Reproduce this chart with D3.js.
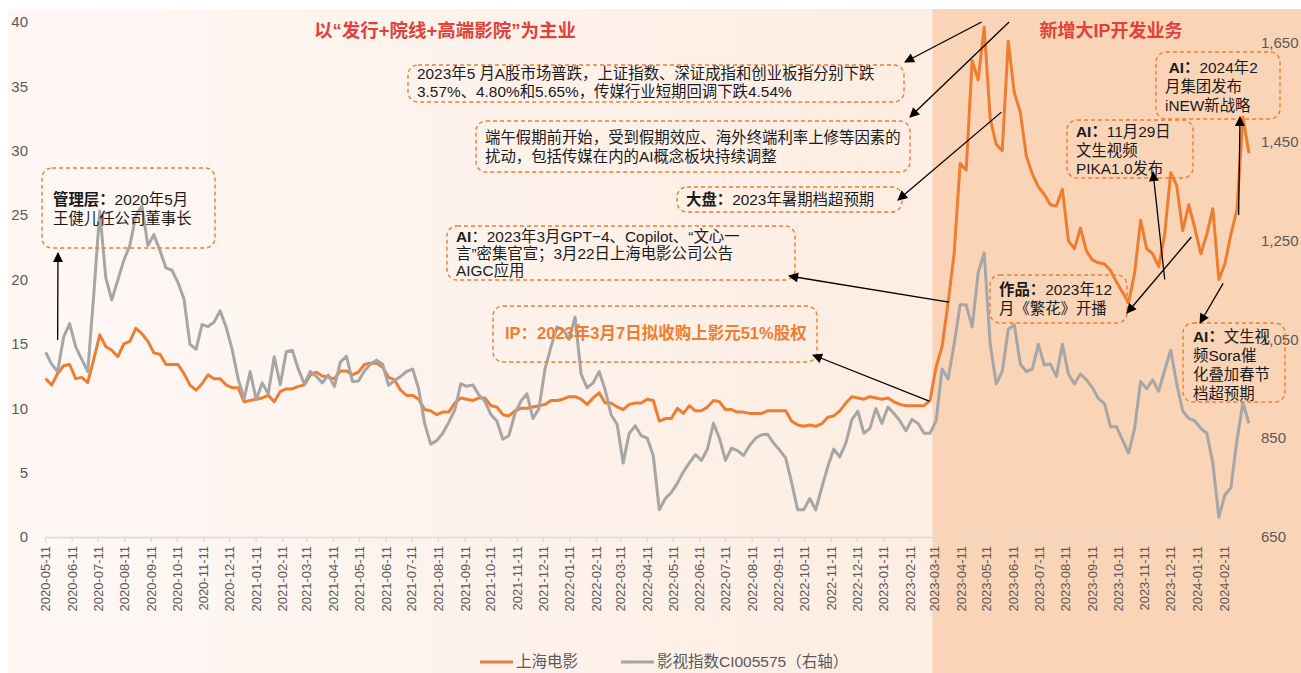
<!DOCTYPE html>
<html>
<head>
<meta charset="utf-8">
<script src="https://cdn.jsdelivr.net/npm/d3@7"></script>
<style>
  body { margin: 0; background: #fff; }
  text { font-family: "Liberation Sans", "Noto Sans CJK SC", sans-serif; }
</style>
</head>
<body>
<svg id="chart" width="1301" height="673"></svg>
<script>
// weekly closes (Mondays from 2020-05-11)
var weeks = d3.timeMonday.range(new Date(2020, 4, 11), new Date(2024, 2, 12));

// 上海电影 (left axis)
var shanghaiFilm = [
  12.3, 11.8, 12.7, 13.3, 13.4, 12.3, 12.4, 12.0, 13.8, 15.7,
  14.8, 14.5, 14.0, 15.0, 15.2, 16.2, 15.8, 15.2, 14.3, 14.2,
  13.4, 13.4, 13.4, 12.7, 11.8, 11.4, 11.9, 12.6, 12.3, 12.3,
  11.8, 11.6, 11.6, 10.5, 10.6, 10.7, 10.8, 11.0, 10.5, 11.3,
  11.5, 11.5, 11.7, 11.8, 12.6, 12.8, 12.5, 12.4, 12.3, 12.9,
  12.9, 12.6, 12.8, 13.4, 13.5, 13.5, 13.2, 12.4, 12.2, 11.4,
  11.0, 11.0, 10.7, 9.9, 9.8, 9.5, 9.7, 9.7, 10.4, 10.8,
  10.7, 10.6, 10.8, 10.8, 10.2, 10.1, 9.5, 9.4, 9.8, 10.0,
  10.0, 10.1, 10.2, 10.3, 10.6, 10.6, 10.7, 10.9, 10.9, 10.7,
  10.3, 10.8, 11.2, 10.4, 10.4, 10.1, 9.9, 10.3, 10.4, 10.4,
  10.7, 10.6, 9.0, 9.2, 9.2, 10.0, 9.6, 10.2, 9.8, 9.8,
  10.1, 10.6, 10.5, 9.9, 9.9, 9.7, 9.7, 9.6, 9.6, 9.6,
  9.8, 9.8, 9.8, 9.8, 9.0, 8.7, 8.6, 8.7, 8.6, 8.8,
  9.3, 9.4, 9.8, 10.4, 10.9, 10.8, 10.7, 10.9, 10.8, 10.7,
  10.8, 10.5, 10.3, 10.2, 10.2, 10.2, 10.2, 10.6, 13.2, 14.8,
  18.2, 22.0, 29.0, 28.5, 37.0, 35.5, 39.6, 32.5, 30.5, 30.0,
  38.5, 34.5, 33.0, 29.6, 28.2, 27.2, 26.6, 25.8, 25.7, 27.0,
  23.0, 22.4, 24.0, 22.2, 21.5, 21.3, 21.2, 20.7, 19.8, 19.0,
  18.2, 20.5, 24.6, 22.4, 22.0, 21.0, 23.5, 28.3, 27.3, 23.8,
  25.8, 24.0, 22.0, 23.5, 25.5, 20.0, 21.2, 23.5, 25.4, 32.6,
  29.8
];

// 影视指数CI005575 (right axis)
var filmIndex = [
  1024, 1000, 985, 1055, 1082, 1035, 1010, 985, 1140, 1310,
  1175, 1130, 1170, 1210, 1240, 1300, 1320, 1240, 1262, 1230,
  1195, 1190, 1165, 1132, 1040, 1030, 1080, 1076, 1085, 1108,
  1075, 1030, 970, 930, 985, 928, 962, 940, 1015, 958,
  1025, 1028, 990, 960, 985, 975, 962, 978, 955, 1004,
  1016, 965, 966, 986, 1000, 1008, 1000, 957, 967, 975,
  985, 990, 950, 880, 838, 845, 860, 882, 907, 960,
  955, 958, 938, 925, 898, 885, 848, 855, 900, 925,
  940, 890, 910, 990, 1035, 1075, 1070, 1050, 1095, 980,
  952, 962, 985, 948, 897, 878, 800, 860, 875, 855,
  850, 815, 705, 728, 740, 759, 782, 800, 817, 805,
  828, 880, 850, 805, 830, 825, 815, 835, 850, 857,
  858, 840, 826, 810, 760, 705, 705, 728, 705, 750,
  792, 828, 812, 840, 887, 905, 860, 870, 910, 880,
  913, 900, 885, 865, 888, 880, 860, 860, 885, 990,
  970, 1040, 1120, 1120, 1075, 1185, 1225, 1040, 960, 985,
  1070, 1080, 1000, 985, 990, 1040, 998, 1000, 975, 1040,
  980, 960, 980, 968, 952, 930, 920, 873, 873, 846,
  820, 870, 965, 950, 968, 945, 988, 1028, 960, 905,
  890, 885, 870, 860, 800, 690, 735, 750, 845, 922,
  880
];

var tickDates = d3.timeMonth.range(new Date(2020, 4, 1), new Date(2024, 2, 1))
  .map(function (d) { return new Date(d.getFullYear(), d.getMonth(), 11); });
var leftTicks = [0, 5, 10, 15, 20, 25, 30, 35, 40];
var rightTicks = [650, 850, 1050, 1250, 1450, 1650];
var phaseStart = new Date(2023, 2, 11);
var seriesNames = ['上海电影', '影视指数CI005575（右轴）'];

var parse = d3.timeParse('%Y-%m-%d');

var svg = d3.select('#chart');
var W = 1301, H = 673;

var x = d3.scaleTime()
  .domain([new Date(2020, 4, 11), new Date(2024, 1, 11)])
  .range([45.6, 1224]);
var yL = d3.scaleLinear().domain([0, 40]).range([537, 22]);
var yR = d3.scaleLinear().domain([650, 1650]).range([537, 43]);

// background
var defs = svg.append('defs');
var grad = defs.append('linearGradient').attr('id', 'bg').attr('x1', 0).attr('x2', 1).attr('y1', 0).attr('y2', 0);
grad.append('stop').attr('offset', 0).attr('stop-color', '#fef8f5');
grad.append('stop').attr('offset', 1).attr('stop-color', '#fdede2');

defs.append('marker').attr('id', 'arrow')
  .attr('viewBox', '0 0 10 10').attr('refX', 9).attr('refY', 5)
  .attr('markerUnits', 'userSpaceOnUse')
  .attr('markerWidth', 11).attr('markerHeight', 10).attr('orient', 'auto')
  .append('path').attr('d', 'M0,0L10,5L0,10z').attr('fill', '#000');

var px = x(phaseStart) - 2;
svg.append('rect').attr('x', 8).attr('y', 9).attr('width', px - 8).attr('height', H - 9).attr('fill', 'url(#bg)');
svg.append('rect').attr('x', px).attr('y', 9).attr('width', W - px).attr('height', H - 9).attr('fill', '#fad4b7');

// left axis labels
svg.append('g').selectAll('text').data(leftTicks).enter().append('text')
  .attr('x', 28).attr('y', function (d) { return yL(d); }).attr('dy', '0.35em')
  .attr('text-anchor', 'end').attr('font-size', 15).attr('fill', '#595959')
  .text(function (d) { return d; });

// right axis labels
svg.append('g').selectAll('text').data(rightTicks).enter().append('text')
  .attr('x', 1261).attr('y', function (d) { return yR(d); }).attr('dy', '0.35em')
  .attr('font-size', 15).attr('fill', '#595959')
  .text(function (d) { return d3.format(',')(d); });

// x axis
svg.append('line').attr('x1', 45).attr('x2', 1248).attr('y1', 537.5).attr('y2', 537.5)
  .attr('stroke', '#d9d9d9').attr('stroke-width', 1.5);
var xt = svg.append('g').selectAll('g').data(tickDates).enter().append('g')
  .attr('transform', function (d) { return 'translate(' + x(d) + ',0)'; });
xt.append('line').attr('y1', 537).attr('y2', 542).attr('stroke', '#d9d9d9').attr('stroke-width', 1.2);
xt.append('text')
  .attr('transform', 'translate(0,546) rotate(-90)')
  .attr('dy', '0.35em').attr('text-anchor', 'end')
  .attr('font-size', 13).attr('fill', '#595959')
  .text(function (d) { return d3.timeFormat('%Y-%m-%d')(d); });

// series
var lineL = d3.line().x(function (d, i) { return x(weeks[i]); }).y(function (d) { return yL(d); });
var lineR = d3.line().x(function (d, i) { return x(weeks[i]); }).y(function (d) { return yR(d); });

svg.append('path').datum(shanghaiFilm).attr('d', lineL)
  .attr('fill', 'none').attr('stroke', '#ed7d31').attr('stroke-width', 3).attr('stroke-linejoin', 'round');
svg.append('path').datum(filmIndex).attr('d', lineR)
  .attr('fill', 'none').attr('stroke', '#a6a6a6').attr('stroke-width', 3).attr('stroke-linejoin', 'round');

// headlines
svg.append('text').attr('x', 445).attr('y', 37).attr('text-anchor', 'middle')
  .attr('font-size', 18.5).attr('font-weight', 'bold').attr('fill', '#e2413a')
  .text('以“发行+院线+高端影院”为主业');
svg.append('text').attr('x', 1111).attr('y', 37).attr('text-anchor', 'middle')
  .attr('font-size', 18).attr('font-weight', 'bold').attr('fill', '#e2413a')
  .text('新增大IP开发业务');

// annotations
var notes = [
  { lines: [[['管理层：', 1], ['2020年5月']], [['王健儿任公司董事长']]],
    box: [42, 168, 173, 80], tx: 53, ty: 205, lh: 19, from: ['2020-05-25', 15.3], to: [58, 253] },
  { lines: [[['2023年5 月A股市场普跌，上证指数、深证成指和创业板指分别下跌']], [['3.57%、4.80%和5.65%，传媒行业短期回调下跌4.54%']]],
    box: [408, 65, 496, 37], tx: 417, ty: 79, lh: 18, from: ['2023-05-05', 40], to: [905, 62] },
  { lines: [[['端午假期前开始，受到假期效应、海外终端利率上修等因素的']], [['扰动，包括传媒在内的AI概念板块持续调整']]],
    box: [476, 121, 434, 51], tx: 485, ty: 143, lh: 19, from: ['2023-06-06', 40], to: [910, 117] },
  { lines: [[['大盘：', 1], ['2023年暑期档超预期']]],
    box: [677, 187, 225, 25], tx: 686, ty: 205, lh: 19, from: ['2023-05-28', 33], to: [898, 200] },
  { lines: [[['AI', 1], ['：2023年3月GPT−4、Copilot、“文心一']], [['言”密集官宣；3月22日上海电影公司公告']], [['AIGC应用']]],
    box: [447, 226, 348, 54], tx: 456, ty: 242, lh: 17, from: ['2023-03-28', 18.25], to: [789, 276] },
  { lines: [[['IP：2023年3月7日拟收购上影元51%股权']]], color: '#ed7d31', bold: 1, size: 16.5,
    box: [493, 306, 324, 56], tx: 505, ty: 339, lh: 19, from: ['2023-03-05', 10.55], to: [813, 355] },
  { lines: [[['作品：', 1], ['2023年12']], [['月《繁花》开播']]],
    box: [990, 275, 137, 48], tx: 999, ty: 295, lh: 19, from: ['2024-01-04', 23.3], to: [1127, 313] },
  { lines: [[['AI：', 1], ['11月29日']], [['文生视频']], [['PIKA1.0发布']]],
    box: [1067, 120, 126, 58], tx: 1076, ty: 137, lh: 18.5, from: ['2023-12-04', 20], to: [1153, 172] },
  { lines: [[[' AI：', 1], ['2024年2']], [['月集团发布']], [['iNEW新战略']]],
    box: [1156, 52, 124, 67], tx: 1165, ty: 73, lh: 19, from: ['2024-02-28', 25], to: [1240, 117] },
  { lines: [[['AI：', 1], ['文生视']], [['频Sora催']], [['化叠加春节']], [['档超预期']]],
    box: [1183, 323, 102, 79], tx: 1193, ty: 342, lh: 19, from: ['2024-02-10', 19.7], to: [1200, 323] }
];

var ann = svg.append('g');
notes.forEach(function (n) {
  ann.append('rect')
    .attr('x', n.box[0]).attr('y', n.box[1]).attr('width', n.box[2]).attr('height', n.box[3])
    .attr('rx', 10).attr('ry', 10)
    .attr('fill', 'none').attr('stroke', '#ed7d31').attr('stroke-width', 1.4)
    .attr('stroke-dasharray', '4,3');
  n.lines.forEach(function (ln, i) {
    var t = ann.append('text').attr('x', n.tx).attr('y', n.ty + i * n.lh)
      .attr('font-size', n.size || 15.4).attr('fill', n.color || '#1a1a1a')
      .attr('font-weight', n.bold ? 'bold' : 'normal')
      .attr('xml:space', 'preserve');
    ln.forEach(function (part) {
      t.append('tspan').attr('font-weight', (part[1] || n.bold) ? 'bold' : 'normal').text(part[0]);
    });
  });
  ann.append('line')
    .attr('x1', x(parse(n.from[0]))).attr('y1', yL(n.from[1]))
    .attr('x2', n.to[0]).attr('y2', n.to[1])
    .attr('stroke', '#000').attr('stroke-width', 1.3)
    .attr('marker-end', 'url(#arrow)');
});

// legend
var legend = svg.append('g');
var lx = [480, 621];
var colors = ['#ed7d31', '#a6a6a6'];
seriesNames.forEach(function (s, i) {
  legend.append('line').attr('x1', lx[i]).attr('x2', lx[i] + 33).attr('y1', 662).attr('y2', 662)
    .attr('stroke', colors[i]).attr('stroke-width', 3);
  legend.append('text').attr('x', lx[i] + 36).attr('y', 667)
    .attr('font-size', 15.5).attr('fill', '#595959').text(s);
});
</script>
</body>
</html>
